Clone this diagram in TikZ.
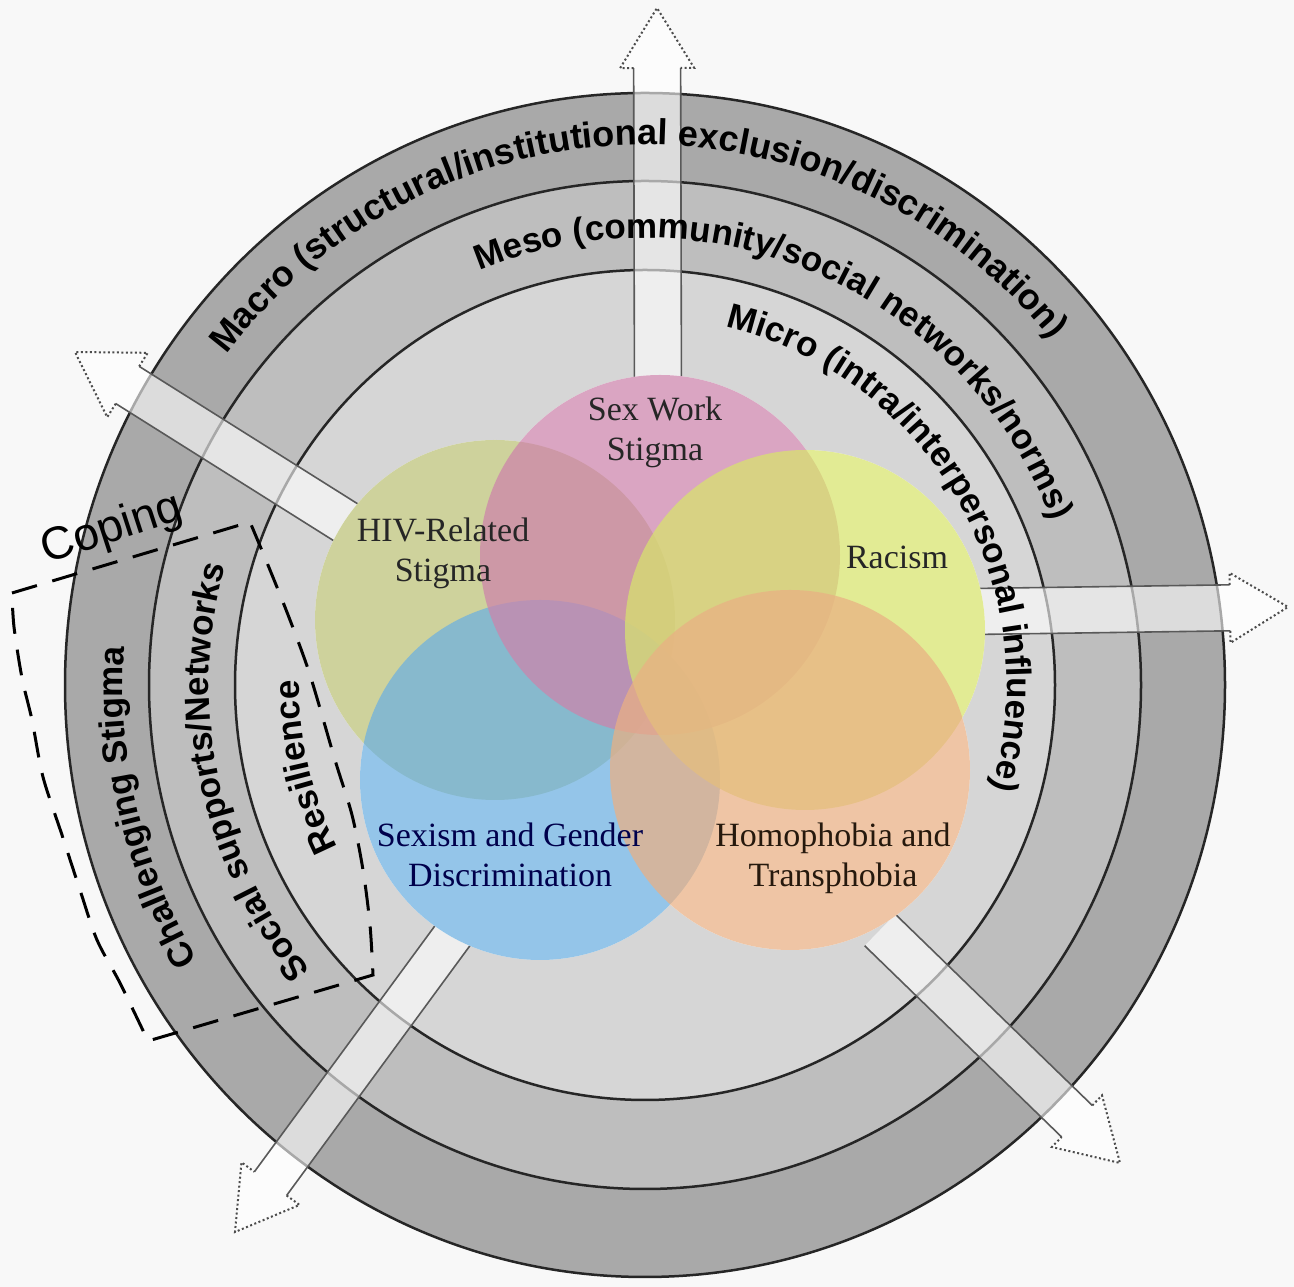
\documentclass[tikz,border=0pt]{standalone}
\usepackage{fontspec}
\usetikzlibrary{calc,decorations.text}
\newfontfamily\ringsans{Liberation Sans}
\newfontfamily\labserif{Liberation Serif}
\newcommand\rt{\ringsans\bfseries\fontsize{35}{35}\selectfont}
\newcommand\rtb{\ringsans\bfseries\fontsize{36}{36}\selectfont}
\definecolor{bgc}{HTML}{F8F8F8}
\definecolor{ringA}{HTML}{A9A9A9}
\definecolor{ringB}{HTML}{BEBEBE}
\definecolor{ringC}{HTML}{D6D6D6}
\definecolor{cpink}{HTML}{CD83AB}
\definecolor{chiv}{HTML}{BCC277}
\definecolor{crace}{HTML}{D8E46C}
\definecolor{csex}{HTML}{6CB0E1}
\definecolor{chomo}{HTML}{EAB083}
\tikzset{
  ringline/.style={draw=black!85, line width=2.5pt},
  shaftedge/.style={draw=black!65, line width=1.6pt},
  headedge/.style={draw=black!70, line width=2pt, dash pattern=on 2pt off 2.5pt},
  shaftfill/.style={fill=white, fill opacity=0.6},
  copeline/.style={draw=black, line width=3pt, dash pattern=on 26pt off 16pt},
  blob/.style={fill opacity=0.72},
  lab/.style={font=\labserif\fontsize{34}{40}\selectfont, align=center, text=black!85},
}
\newcommand\blockarr[5]{%
  \coordinate (hb) at ($(#2)!#5pt!(#1)$);
  \coordinate (s1) at ($(#1)!#3pt!90:(#2)$);
  \coordinate (s2) at ($(#1)!#3pt!-90:(#2)$);
  \coordinate (s4) at ($(hb)!#3pt!90:(#2)$);
  \coordinate (s3) at ($(hb)!#3pt!-90:(#2)$);
  \coordinate (h1) at ($(hb)!#4pt!90:(#2)$);
  \coordinate (h2) at ($(hb)!#4pt!-90:(#2)$);
  \fill[shaftfill] (s1) -- (s4) -- (h1) -- (#2) -- (h2) -- (s3) -- (s2) -- cycle;
  \draw[shaftedge] (s1) -- (s4) (s2) -- (s3);
  \draw[headedge] (s4) -- (h1) -- (#2) -- (h2) -- (s3);
}
\begin{document}
\begin{tikzpicture}[x=1pt,y=1pt]
\useasboundingbox (0,0) rectangle (1294,1287);
\fill[bgc] (0,0) rectangle (1294,1287);
\coordinate (C) at (645,602);
% rings
\filldraw[ringline, fill=ringA] (C) ellipse [x radius=580, y radius=592];
\filldraw[ringline, fill=ringB] (C) ellipse [x radius=496, y radius=504];
\filldraw[ringline, fill=ringC] (C) ellipse [x radius=410, y radius=415];
% arrows
\coordinate (upT) at (658,880); \coordinate (upP) at (657,1279);
\coordinate (rtT) at (940,675); \coordinate (rtP) at (1288,680);
\coordinate (ulT) at (350,762); \coordinate (ulP) at (75,935);
\coordinate (llT) at (475,382); \coordinate (llP) at (235,55);
\coordinate (lrT) at (880,357); \coordinate (lrP) at (1120,124);
\blockarr{upT}{upP}{23.5}{37}{60}
\blockarr{rtT}{rtP}{23}{35}{58}
\blockarr{ulT}{ulP}{22}{38}{62}
\blockarr{llT}{llP}{20}{36}{60}
\blockarr{lrT}{lrP}{22}{36}{60}
% ring labels
\path[decorate, decoration={text along path, text align=center,
  text={|\rtb|Macro (structural/institutional exclusion/discrimination)}}]
  ($(C)+(166:529 and 540)$) arc[start angle=166, end angle=16, x radius=529, y radius=540];
\path[decorate, decoration={text along path, text align=center,
  text={|\rt|Meso (community/social networks/norms)}}]
  ($(C)+(142:438 and 447)$) arc[start angle=142, end angle=-8, x radius=438, y radius=447];
\path[decorate, decoration={text along path, text align=center,
  text={|\rt|Micro (intra/interpersonal influence)}}]
  ($(C)+(105.5:362 and 367)$) arc[start angle=105.5, end angle=-44.5, x radius=362, y radius=367];
\path[decorate, decoration={text along path, text align=center,
  text={|\rt|Challenging Stigma}}]
  ($(C)+(243.6:522 and 533)$) arc[start angle=243.6, end angle=143.6, x radius=522, y radius=533];
\path[decorate, decoration={text along path, text align=center,
  text={|\rt|Social supports/Networks}}]
  ($(C)+(252.3:436 and 444)$) arc[start angle=252.3, end angle=132.3, x radius=436, y radius=444];
\path[decorate, decoration={text along path, text align=center,
  text={|\rt|Resilience}}]
  ($(C)+(243.5:346 and 352)$) arc[start angle=243.5, end angle=143.5, x radius=346, y radius=352];
% cluster of stigmas
\fill[white] (495,667) circle[radius=180] (540,507) circle[radius=180]
  (660,732) circle[radius=180] (805,657) circle[radius=180] (790,517) circle[radius=180];
\fill[chiv, blob] (495,667) circle[radius=180];
\fill[csex, blob] (540,507) circle[radius=180];
\fill[cpink, blob] (660,732) circle[radius=180];
\fill[crace, blob] (805,657) circle[radius=180];
\fill[chomo, blob] (790,517) circle[radius=180];
\node[lab] (sw) at (655,855) {Sex Work\\Stigma};
\node[lab] (hiv) at (443,734) {HIV-Related\\Stigma};
\node[lab] (rac) at (897,730) {Racism};
\node[lab, text=black!70!blue] (sex) at (510,432) {Sexism and Gender\\Discrimination};
\node[lab, text=black!80!brown] (hom) at (833,429) {Homophobia and\\Transphobia};
% coping bracket
\draw[copeline] (12,694) -- (250,765)
  -- plot[smooth, tension=0.5] coordinates {(250,765) (270,717) (290,667) (310,612) (335,527) (352,472) (363,417) (370,362) (373,312)}
  -- (148,246)
  -- plot[smooth, tension=0.5] coordinates {(148,246) (120,304) (97,347) (80,397) (62,452) (43,510) (32,567) (22,609) (14,660) (12,694)};
\node[font=\ringsans\fontsize{46}{46}\selectfont, rotate=18, anchor=base] (cop) at (116,746) {Coping};
\end{tikzpicture}
\end{document}
